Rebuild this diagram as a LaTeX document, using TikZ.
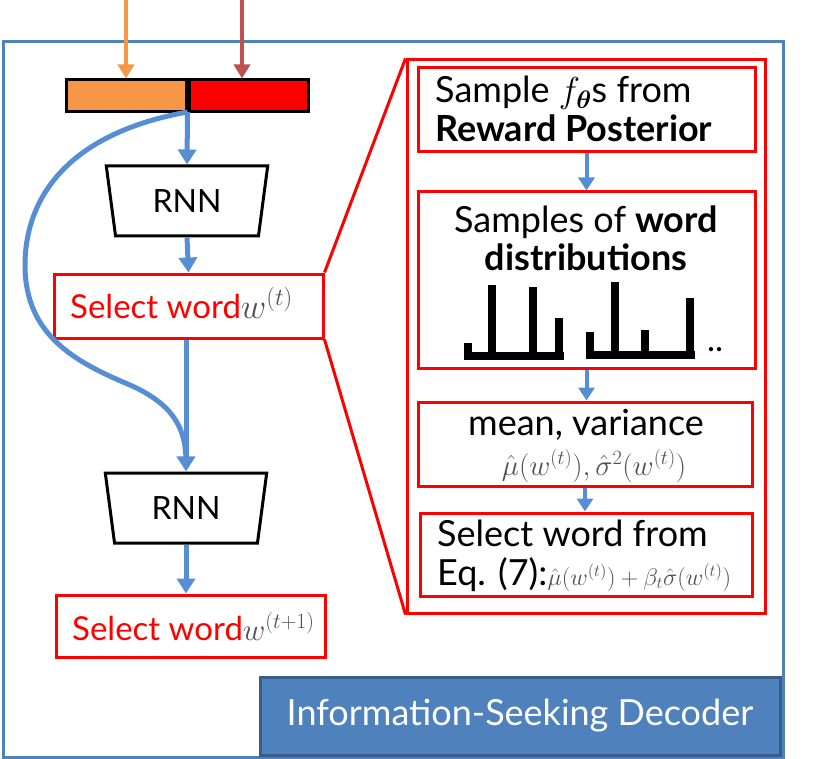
\RequirePackage{fix-cm}
\documentclass[tikz,border=0pt]{standalone}
\usepackage{fontspec}
\usepackage{bm}
\setmainfont{Lato}
\usetikzlibrary{shapes.geometric,arrows.meta}
\definecolor{frameblue}{RGB}{79,129,189}
\definecolor{arrowblue}{RGB}{85,142,213}
\definecolor{inorange}{RGB}{247,150,70}
\definecolor{inbrown}{RGB}{192,80,77}
\definecolor{decborder}{RGB}{56,93,138}
\definecolor{mathgray}{RGB}{80,80,80}
\begin{document}
\begin{tikzpicture}[x=1pt,y=-1pt,
  redbox/.style={draw=red,line width=3pt,inner sep=0pt},
  rnnbox/.style={draw=black,line width=3pt,trapezium,shape border rotate=180,trapezium stretches=true,trapezium angle=79,minimum width=162pt,minimum height=70pt,inner sep=0pt,font=\fontsize{32}{36}\selectfont},
  inrect/.style={draw=black,line width=3pt,minimum height=32pt,inner sep=0pt},
  flow/.style={draw=arrowblue,line width=5pt,-{Triangle[length=15pt,width=18pt]}},
  smallflow/.style={draw=arrowblue,line width=4pt,-{Triangle[length=13pt,width=16pt]}},
  zoomline/.style={draw=red,line width=3pt},
  bar/.style={draw=black,line width=8pt,line cap=butt,line join=miter},
  txt/.style={font=\fontsize{36}{40}\selectfont,inner sep=0pt},
  seltxt/.style={font=\fontsize{33}{38}\selectfont}
]
\useasboundingbox (0,0) rectangle (813,759);
% outer frame
\node[draw=frameblue,line width=3pt,minimum width=780pt,minimum height=715pt,inner sep=0pt] (frame) at (393,399.5) {};
% input bars
\node[inrect,fill=inorange,minimum width=120pt] (orect) at (126,96) {};
\node[inrect,fill=red,minimum width=119pt] (rrect) at (248.5,96) {};
\coordinate (otop) at (126,0);
\coordinate (rtop) at (242,0);
\draw[draw=inorange,line width=4pt,-{Triangle[length=14pt,width=16pt]}] (otop) -- (otop |- orect.north);
\draw[draw=inbrown,line width=4pt,-{Triangle[length=14pt,width=16pt]}] (rtop) -- (rtop |- rrect.north);
\coordinate (junc) at (187.5,112);
% left column
\node[rnnbox] (rnn1) at (187,201) {RNN};
\node[redbox,minimum width=269pt,minimum height=64pt] (sel1) at (188.5,306) {};
\node[seltxt,anchor=base west,inner sep=0pt] (sel1t) at (70,318) {\textcolor{red}{Select word}\textcolor{mathgray}{\fontsize{35}{38}\selectfont$w^{(t)}$}};
\node[rnnbox] (rnn2) at (186,508) {RNN};
\node[redbox,minimum width=269pt,minimum height=62pt] (sel2) at (190.5,626) {};
\node[seltxt,anchor=base west,inner sep=0pt] (sel2t) at (72,640) {\textcolor{red}{Select word}\textcolor{mathgray}{\fontsize{31}{38}\selectfont$w^{(t+1)}$}};
\draw[flow] (junc) -- (rnn1.north);
\draw[flow] (rnn1.south) -- (sel1.north);
\draw[flow] (sel1.south -| rnn2.north) -- (rnn2.north);
\draw[flow] (rnn2.south) -- (rnn2.south |- sel2.north);
\draw[draw=arrowblue,line width=5pt] (junc) .. controls (60,135) and (25,205) .. (25,265)
  .. controls (25,335) and (75,362) .. (130,385)
  .. controls (175,405) and (186,430) .. (186,462);
% right panel
\node[redbox,minimum width=358pt,minimum height=553pt] (big) at (586,336.5) {};
\draw[zoomline] (sel1.north east) -- (big.north west);
\draw[zoomline] (sel1.south east) -- (big.south west);
% box 1
\node[redbox,minimum width=337pt,minimum height=84pt] (b1) at (586.5,110) {};
\node[txt,anchor=base west] (b1a) at (435,103) {Sample $f_{\bm\theta}$s from};
\node[txt,anchor=base west] (b1b) at (435,142) {\textbf{Reward Posterior}};
% box 2
\node[redbox,minimum width=337pt,minimum height=176pt] (b2) at (586.5,280) {};
\node[txt,anchor=base] (b2a) at (586,233) {Samples of \textbf{word}};
\node[txt,anchor=base] (b2b) at (586,270) {\textbf{distributions}};
% box 3
\node[redbox,minimum width=334pt,minimum height=84pt] (b3) at (585,444) {};
\node[txt,anchor=base] (b3a) at (586,435) {mean, variance};
\node[txt,anchor=base,text=mathgray,font=\fontsize{29}{32}\selectfont] (b3b) at (594,475) {$\hat\mu(w^{(t)}), \hat\sigma^2(w^{(t)})$};
% box 4
\node[redbox,minimum width=332pt,minimum height=83pt] (b4) at (586,554.5) {};
\node[txt,anchor=base west] (b4a) at (437,546) {Select word from};
\node[txt,anchor=base west] (b4b) at (437,585) {Eq. (7):};
\node[txt,anchor=base west,text=mathgray,font=\fontsize{24}{28}\selectfont] (b4c) at (b4b.base east) {$\hat\mu(w^{(t)})+\beta_t\hat\sigma(w^{(t)})$};
\draw[smallflow] (b1.south) -- (b2.north);
\draw[smallflow] (b2.south) -- (b2.south |- b3.north);
\draw[smallflow] (b3.south) -- (b3.south |- b4.north);
% histograms
\draw[bar] (468,343) -- (468,356) -- (564,356);
\draw[bar] (492,285) -- (492,356);
\draw[bar] (533,287) -- (533,356);
\draw[bar] (559,318) -- (559,356);
\draw[bar] (590,332) -- (590,355) -- (695,355);
\draw[bar] (615,282) -- (615,355);
\draw[bar] (645,330) -- (645,355);
\draw[bar] (690,298) -- (690,355);
\node[txt,anchor=base west,font=\fontsize{34}{38}\selectfont] (dots) at (707,351) {..};
% decoder label
\node[draw=decborder,fill=frameblue,line width=3pt,minimum width=520pt,minimum height=78pt,inner sep=0pt,text=white,font=\fontsize{36}{40}\selectfont] (dec) at (520,716) {Information-Seeking Decoder};
\end{tikzpicture}
\end{document}
